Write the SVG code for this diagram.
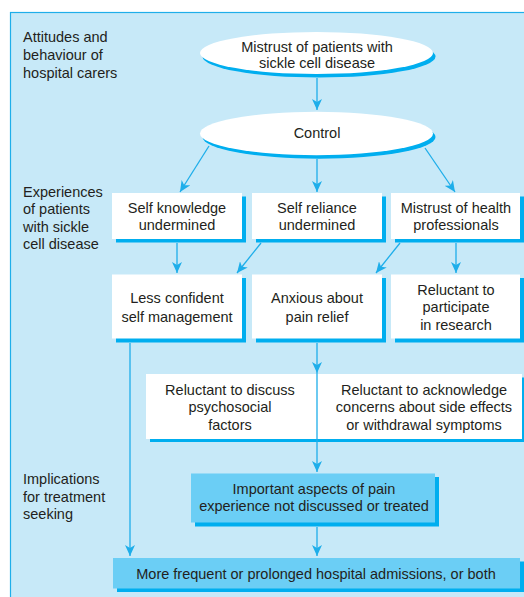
<svg xmlns="http://www.w3.org/2000/svg" width="524" height="597" viewBox="0 0 524 597">
  <defs>
    <marker id="arr" markerUnits="userSpaceOnUse" markerWidth="12" markerHeight="10" refX="11" refY="5" orient="auto">
      <path d="M0,0 L11,5 L0,10 L3,5 z" fill="#1eaeea"/>
    </marker>
    <style>
      text { font-family: "Liberation Sans", Arial, sans-serif; font-size: 14.5px; fill: #231f20; }
      .c { text-anchor: middle; }
      .box { fill: #ffffff; }
      .shadow { fill: #00aeef; }
      .bbox { fill: #6bcef5; }
      .conn { stroke: #1eaeea; stroke-width: 1.3; fill: none; }
    </style>
  </defs>

  <rect x="0" y="0" width="524" height="597" fill="#ffffff"/>
  <rect id="panel" x="10.5" y="12.5" width="540" height="600" fill="#c7e9f8" stroke="#1eaeea" stroke-width="1.2"/>

  <g id="row-labels">
    <text x="23" y="42">Attitudes and</text>
    <text x="23" y="60">behaviour of</text>
    <text x="23" y="78">hospital carers</text>
    <text x="23" y="197">Experiences</text>
    <text x="23" y="214">of patients</text>
    <text x="23" y="231.5">with sickle</text>
    <text x="23" y="248.5">cell disease</text>
    <text x="23" y="484">Implications</text>
    <text x="23" y="501.5">for treatment</text>
    <text x="23" y="519">seeking</text>
  </g>

  <g id="mistrust-patients">
    <ellipse cx="319" cy="56.5" rx="116.5" ry="21" class="shadow"/>
    <ellipse cx="316.5" cy="53" rx="116.5" ry="21" class="box"/>
    <text class="c" x="317" y="52">Mistrust of patients with</text>
    <text class="c" x="317" y="68">sickle cell disease</text>
  </g>

  <g id="control">
    <ellipse cx="319" cy="137" rx="116.5" ry="21.7" class="shadow"/>
    <ellipse cx="316.5" cy="133.5" rx="116.5" ry="21.7" class="box"/>
    <text class="c" x="317" y="138">Control</text>
  </g>

  <g id="self-knowledge">
    <rect x="116" y="196.5" width="130" height="46" class="shadow"/>
    <rect x="112" y="193" width="130" height="46" class="box"/>
    <text class="c" x="177" y="213">Self knowledge</text>
    <text class="c" x="177" y="230">undermined</text>
  </g>

  <g id="self-reliance">
    <rect x="256" y="196.5" width="130" height="46" class="shadow"/>
    <rect x="252" y="193" width="130" height="46" class="box"/>
    <text class="c" x="317" y="213">Self reliance</text>
    <text class="c" x="317" y="230">undermined</text>
  </g>

  <g id="mistrust-health">
    <rect x="395" y="196.5" width="129" height="46" class="shadow"/>
    <rect x="391" y="193" width="129" height="46" class="box"/>
    <text class="c" x="456" y="213">Mistrust of health</text>
    <text class="c" x="456" y="230">professionals</text>
  </g>

  <g id="less-confident">
    <rect x="116" y="278" width="130" height="64.5" class="shadow"/>
    <rect x="112" y="274.5" width="130" height="64" class="box"/>
    <text class="c" x="177" y="303">Less confident</text>
    <text class="c" x="177" y="321.5">self management</text>
  </g>

  <g id="anxious">
    <rect x="256" y="278" width="130" height="64.5" class="shadow"/>
    <rect x="252" y="274.5" width="130" height="64" class="box"/>
    <text class="c" x="317" y="303">Anxious about</text>
    <text class="c" x="317" y="321.5">pain relief</text>
  </g>

  <g id="reluctant-research">
    <rect x="395" y="278" width="129" height="64.5" class="shadow"/>
    <rect x="391" y="274.5" width="129" height="64" class="box"/>
    <text class="c" x="456" y="294.5">Reluctant to</text>
    <text class="c" x="456" y="312">participate</text>
    <text class="c" x="456" y="329.5">in research</text>
  </g>

  <g id="reluctant-discuss">
    <rect x="150" y="377.5" width="374" height="64.5" class="shadow"/>
    <rect x="146" y="374" width="376" height="65" class="box"/>
    <text class="c" x="230" y="394.5">Reluctant to discuss</text>
    <text class="c" x="230" y="412">psychosocial</text>
    <text class="c" x="230" y="429.5">factors</text>
    <text class="c" x="424" y="394.5">Reluctant to acknowledge</text>
    <text class="c" x="424" y="412">concerns about side effects</text>
    <text class="c" x="424" y="429.5">or withdrawal symptoms</text>
  </g>

  <g id="important-aspects">
    <rect x="195" y="477" width="244" height="49.5" class="shadow"/>
    <rect x="191" y="473.5" width="244" height="49" class="bbox"/>
    <text class="c" x="314" y="493.5">Important aspects of pain</text>
    <text class="c" x="314" y="511">experience not discussed or treated</text>
  </g>

  <g id="admissions">
    <rect x="117" y="561.5" width="407" height="30.5" class="shadow"/>
    <rect x="113" y="558" width="407" height="30.5" class="bbox"/>
    <text class="c" x="316" y="579">More frequent or prolonged hospital admissions, or both</text>
  </g>

  <g id="connectors">
    <line class="conn" x1="317" y1="78" x2="317" y2="110" marker-end="url(#arr)"/>
    <line class="conn" x1="209" y1="146" x2="180" y2="192" marker-end="url(#arr)"/>
    <line class="conn" x1="317" y1="159" x2="317" y2="192" marker-end="url(#arr)"/>
    <line class="conn" x1="425" y1="148" x2="455" y2="192" marker-end="url(#arr)"/>
    <line class="conn" x1="177" y1="243" x2="177" y2="273" marker-end="url(#arr)"/>
    <line class="conn" x1="261" y1="243" x2="237" y2="273" marker-end="url(#arr)"/>
    <line class="conn" x1="400" y1="243" x2="376" y2="273" marker-end="url(#arr)"/>
    <line class="conn" x1="456" y1="243" x2="456" y2="273" marker-end="url(#arr)"/>
    <line class="conn" x1="317" y1="343" x2="317" y2="373" marker-end="url(#arr)"/>
    <line class="conn" x1="317" y1="373" x2="317" y2="472" marker-end="url(#arr)"/>
    <line class="conn" x1="317" y1="527" x2="317" y2="556" marker-end="url(#arr)"/>
    <line class="conn" x1="130" y1="343" x2="130" y2="556" marker-end="url(#arr)"/>
  </g>
</svg>
